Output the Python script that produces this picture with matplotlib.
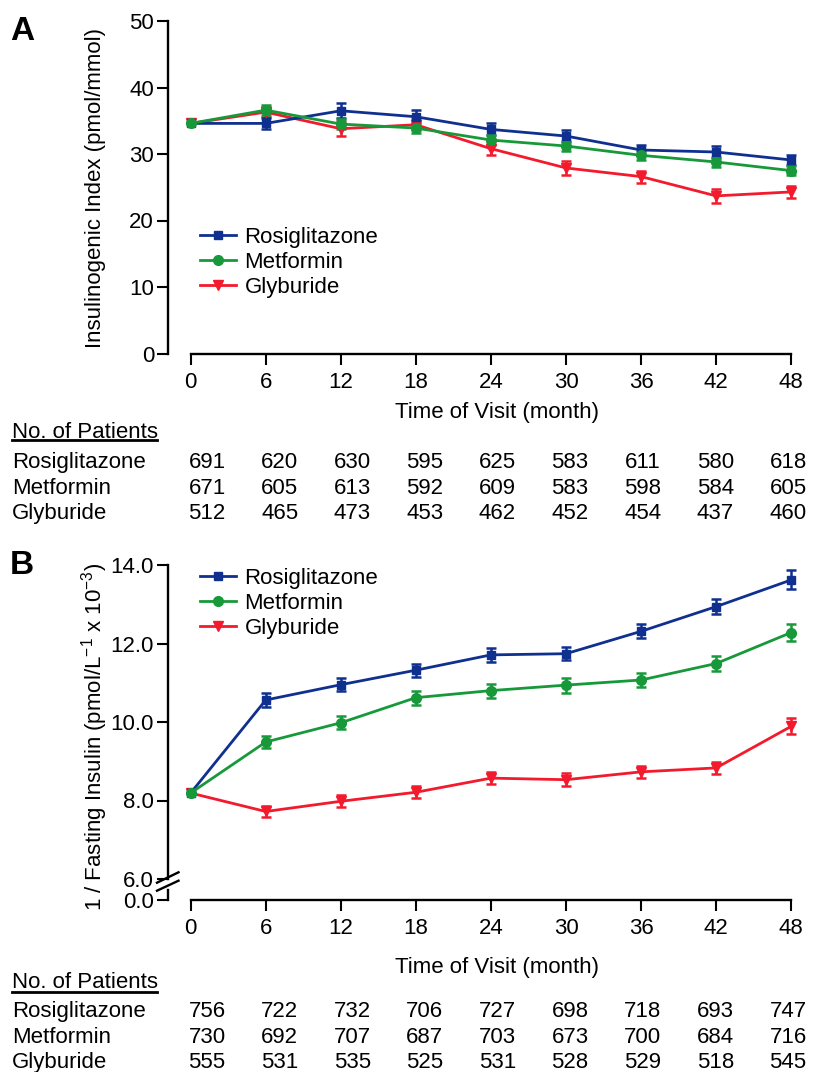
import numpy as np
import matplotlib.pyplot as plt
from matplotlib.lines import Line2D

plt.rcParams['font.family'] = ['Liberation Sans', 'DejaVu Sans']
plt.rcParams['mathtext.fontset'] = 'custom'
plt.rcParams['mathtext.rm'] = 'Liberation Sans'
plt.rcParams['mathtext.it'] = 'Liberation Sans:italic'
plt.rcParams['mathtext.bf'] = 'Liberation Sans:bold'

# ---- data -------------------------------------------------------------
months = [0, 6, 12, 18, 24, 30, 36, 42, 48]
drugs = ['Rosiglitazone', 'Metformin', 'Glyburide']

# panel A: insulinogenic index (pmol/mmol), mean and SE
ii_rosi = [34.6, 34.6, 36.5, 35.6, 33.7, 32.7, 30.6, 30.3, 29.1]
ii_metf = [34.6, 36.6, 34.5, 33.9, 32.1, 31.2, 29.8, 28.8, 27.5]
ii_glyb = [34.6, 36.3, 33.8, 34.4, 30.8, 27.9, 26.6, 23.7, 24.3]
ii_rosi_se = [0, 0.8, 1.1, 1.0, 0.9, 0.9, 0.8, 0.9, 0.7]
ii_metf_se = [0, 0.8, 0.8, 0.7, 0.7, 0.8, 0.7, 0.7, 0.7]
ii_glyb_se = [0, 0.8, 1.1, 0.8, 1.0, 1.1, 0.9, 1.0, 0.9]

# panel B: 1 / fasting insulin (x 10^-3), mean and SE
fi_rosi = [8.19, 10.56, 10.95, 11.32, 11.71, 11.74, 12.31, 12.94, 13.62]
fi_metf = [8.19, 9.49, 9.98, 10.62, 10.80, 10.94, 11.07, 11.49, 12.28]
fi_glyb = [8.19, 7.72, 7.98, 8.21, 8.57, 8.53, 8.73, 8.83, 9.89]
fi_rosi_se = [0, 0.17, 0.16, 0.17, 0.17, 0.17, 0.18, 0.2, 0.24]
fi_metf_se = [0, 0.15, 0.17, 0.18, 0.18, 0.19, 0.18, 0.2, 0.22]
fi_glyb_se = [0, 0.15, 0.15, 0.15, 0.16, 0.16, 0.16, 0.16, 0.2]

# number of patients
n_a = {'Rosiglitazone': [691, 620, 630, 595, 625, 583, 611, 580, 618],
       'Metformin':     [671, 605, 613, 592, 609, 583, 598, 584, 605],
       'Glyburide':     [512, 465, 473, 453, 462, 452, 454, 437, 460]}
n_b = {'Rosiglitazone': [756, 722, 732, 706, 727, 698, 718, 693, 747],
       'Metformin':     [730, 692, 707, 687, 703, 673, 700, 684, 716],
       'Glyburide':     [555, 531, 535, 525, 531, 528, 529, 518, 545]}

colors = {'Rosiglitazone': '#10308F', 'Metformin': '#17993A', 'Glyburide': '#F21A2C'}
markers = {'Rosiglitazone': ('s', 6), 'Metformin': ('o', 7), 'Glyburide': ('v', 7.5)}

# ---- layout helpers (pixel coordinates, origin top-left) ---------------
W, H = 813, 1072
FS = 16
fig = plt.figure(figsize=(W / 100, H / 100), dpi=100)


def fx(x):
    return x / W


def fy(y):
    return 1 - y / H


def box(left, top, right, bottom):
    return [fx(left), fy(bottom), (right - left) / W, (bottom - top) / H]


XLIM = (-1.81, 49.1)


def style(ax):
    ax.spines['top'].set_visible(False)
    ax.spines['right'].set_visible(False)
    for s in ('left', 'bottom'):
        ax.spines[s].set_linewidth(1.7)
    ax.spines['bottom'].set_bounds(0, 48)
    ax.set_xlim(*XLIM)
    ax.tick_params(direction='out', length=8, width=1.5, labelsize=FS)
    ax.tick_params(axis='y', pad=2)
    ax.tick_params(axis='x', pad=5)


def series(ax, y, err, name):
    m, ms = markers[name]
    ax.errorbar(months, y, yerr=err, color=colors[name], lw=2, marker=m, ms=ms,
                mfc=colors[name], mec=colors[name], capsize=3.5, capthick=1.8,
                elinewidth=1.8, clip_on=False)


def legend(ax, top):
    handles = [Line2D([], [], color=colors[d], lw=2, marker=markers[d][0],
                      ms=markers[d][1]) for d in drugs]
    ax.legend(handles, drugs, loc='upper left', bbox_to_anchor=(fx(200), fy(top)),
              bbox_transform=fig.transFigure, frameon=False, borderpad=0,
              borderaxespad=0, handlelength=1.6, handletextpad=0.4,
              labelspacing=0.18, fontsize=FS)


def table(counts, head_base, rows_base, underline_y):
    fig.text(fx(12), fy(head_base), 'No. of Patients', fontsize=FS, va='baseline')
    fig.add_artist(Line2D([fx(12), fx(157)], [fy(underline_y)] * 2, lw=2,
                          color='black', transform=fig.transFigure))
    cols = np.linspace(207, 788, len(months))
    for d, yb in zip(drugs, rows_base):
        fig.text(fx(12), fy(yb), d, fontsize=FS, va='baseline')
        for xc, n in zip(cols, counts[d]):
            fig.text(fx(xc), fy(yb), str(n), fontsize=FS, va='baseline', ha='center')


# ---- panel A ----------------------------------------------------------
ax_a = fig.add_axes(box(168, 21, 805, 353.5))
style(ax_a)
ax_a.set_ylim(0, 50)
ax_a.set_yticks(np.arange(0, 51, 10))
ax_a.set_xticks(months)
series(ax_a, ii_glyb, ii_glyb_se, 'Glyburide')
series(ax_a, ii_rosi, ii_rosi_se, 'Rosiglitazone')
series(ax_a, ii_metf, ii_metf_se, 'Metformin')
legend(ax_a, 227)
ax_a.set_ylabel('Insulinogenic Index (pmol/mmol)', fontsize=FS)
ax_a.yaxis.set_label_coords(fx(95), fy(188), transform=fig.transFigure)
ax_a.yaxis.label.set_va('center')
ax_a.set_xlabel('Time of Visit (month)', fontsize=FS)
ax_a.xaxis.set_label_coords(fx(497), fy(418), transform=fig.transFigure)
ax_a.xaxis.label.set_va('baseline')
fig.text(fx(10), fy(40), 'A', fontsize=24, fontweight='bold', va='baseline')
table(n_a, 438, [468, 494, 519], 440)

# ---- panel B (broken y axis) ------------------------------------------
ax_b = fig.add_axes(box(168, 565, 805, 879))
style(ax_b)
ax_b.spines['bottom'].set_visible(False)
ax_b.tick_params(axis='x', bottom=False, labelbottom=False)
ax_b.set_ylim(6, 14)
ax_b.set_yticks([6, 8, 10, 12, 14])
ax_b.set_yticklabels(['6.0', '8.0', '10.0', '12.0', '14.0'])
series(ax_b, fi_glyb, fi_glyb_se, 'Glyburide')
series(ax_b, fi_rosi, fi_rosi_se, 'Rosiglitazone')
series(ax_b, fi_metf, fi_metf_se, 'Metformin')
legend(ax_b, 568)
ax_b.set_ylabel(r'1 / Fasting Insulin (pmol/L$^{-1}$ x 10$^{-3}$)', fontsize=FS)
ax_b.yaxis.set_label_coords(fx(95), fy(737), transform=fig.transFigure)
ax_b.yaxis.label.set_va('center')

ax_b0 = fig.add_axes(box(168, 890, 805, 900))
style(ax_b0)
ax_b0.set_ylim(0, 0.25)
ax_b0.set_yticks([0])
ax_b0.set_yticklabels(['0.0'])
ax_b0.set_xticks(months)
ax_b0.patch.set_visible(False)
ax_b0.set_xlabel('Time of Visit (month)', fontsize=FS)
ax_b0.xaxis.set_label_coords(fx(497), fy(973), transform=fig.transFigure)
ax_b0.xaxis.label.set_va('baseline')

for y0, y1 in [(882.7, 872.3), (890.7, 880.7)]:
    fig.add_artist(Line2D([fx(157), fx(178.5)], [fy(y0), fy(y1)], lw=1.7,
                          color='black', transform=fig.transFigure))

fig.text(fx(10), fy(574), 'B', fontsize=24, fontweight='bold', va='baseline')
table(n_b, 988, [1017, 1043, 1068], 992)

fig.savefig('out.png', dpi=100)
